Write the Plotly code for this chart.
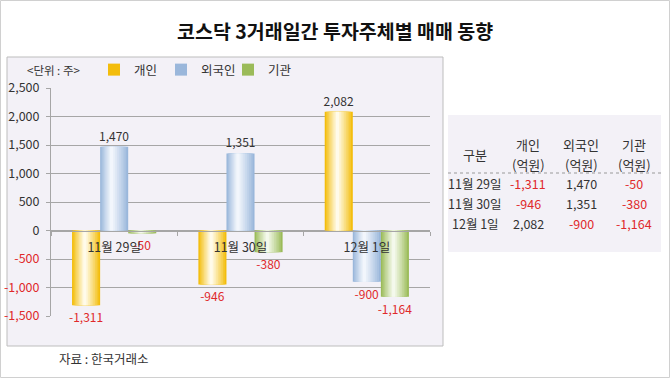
import plotly.graph_objects as go

# ---------------- data ----------------
dates = ["11월 29일", "11월 30일", "12월 1일"]
series_names = ["개인", "외국인", "기관"]
individual = [-1311, -946, 2082]
foreign = [1470, 1351, -900]
institution = [-50, -380, -1164]
y_ticks = [-1500, -1000, -500, 0, 500, 1000, 1500, 2000, 2500]
series_values = [individual, foreign, institution]

title_text = "코스닥 3거래일간 투자주체별 매매 동향"
unit_text = "<단위 : 주>"
source_text = "자료 : 한국거래소"
table_first_col = "구분"
table_unit = "(억원)"

# ---------------- style ----------------
FONT = "Noto Sans CJK KR"
RED = "#e0292b"
TXT = "#333333"
GRID = "#a6a6a6"
W_PX, H_PX = 670, 378
L, R, T, B = 51, 430, 88, 316


def px_x(px):
    return (px - L) / (R - L)


def px_y(py):
    return (B - py) / (B - T)


def hex2rgb(h):
    h = h.lstrip("#")
    return tuple(int(h[i:i + 2], 16) for i in (0, 2, 4))


def mix(c1, c2, t):
    a, b = hex2rgb(c1), hex2rgb(c2)
    return "rgb(%d,%d,%d)" % tuple(round(a[i] + (b[i] - a[i]) * t) for i in range(3))


# edge colour, highlight colour, highlight centre position
grad = [
    ("#f3bd0c", "#fffbea", 0.45),
    ("#9ab7db", "#f2f6fc", 0.40),
    ("#9bbb59", "#f4f9ec", 0.45),
]

fig = go.Figure()
N = 9
bw = 2 / 9
for i, (name, vals) in enumerate(zip(series_names, series_values)):
    edge, hi, c = grad[i]
    for k in range(N):
        s = k / N
        left = c * s
        right = 1 - (1 - c) * s
        col = mix(edge, hi, (k / (N - 1)) ** 0.9)
        kw = {}
        if k == 0:
            kw = dict(
                text=[f"{v:,}" for v in vals],
                textposition="outside",
                textfont=dict(family=FONT, size=12,
                              color=[RED if v < 0 else TXT for v in vals]),
                constraintext="none",
                cliponaxis=False,
            )
        fig.add_trace(go.Bar(
            x=dates, y=vals, name=name,
            offset=-1 / 3 + i * bw + left * bw,
            width=(right - left) * bw,
            marker=dict(color=col, line=dict(width=0)),
            showlegend=(k == 0),
            legendgroup=name,
            hoverinfo="skip",
            **kw,
        ))

ticktext = [f'<span style="color:{RED}">{v:,}</span>' if v < 0 else f"{v:,}" for v in y_ticks]

shapes = [
    # outer image border
    dict(type="rect", xref="paper", yref="paper",
         x0=px_x(0.5), x1=px_x(669.5), y0=px_y(0.5), y1=px_y(377.5),
         line=dict(color="#d0d0d0", width=1), fillcolor="rgba(0,0,0,0)", layer="below"),
    # chart box
    dict(type="rect", xref="paper", yref="paper",
         x0=px_x(7), x1=px_x(443), y0=px_y(57), y1=px_y(346),
         line=dict(color="#bdbdbd", width=1), fillcolor="#f3f1f7", layer="below"),
    # table box
    dict(type="rect", xref="paper", yref="paper",
         x0=px_x(448), x1=px_x(661), y0=px_y(115), y1=px_y(252),
         line=dict(width=0), fillcolor="#f3f1f7", layer="below"),
    # table dashed separator
    dict(type="line", xref="paper", yref="paper",
         x0=px_x(448), x1=px_x(661), y0=px_y(173), y1=px_y(173),
         line=dict(color="#999999", width=1, dash="dot")),
]


def ann(text, x, y, size=12, color=TXT, xanchor="center", bold=False):
    return dict(text=f"<b>{text}</b>" if bold else text, x=px_x(x), y=px_y(y),
                xref="paper", yref="paper", showarrow=False,
                font=dict(family=FONT, size=size, color=color),
                xanchor=xanchor, yanchor="middle")


annotations = [
    ann(title_text, 335, 30, size=19.5, color="#111111", bold=True),
    ann(unit_text, 25, 70, size=11.5, xanchor="left"),
    ann(source_text, 57, 358, size=12.5, xanchor="left"),
]

# table
col_x = [475, 528, 581, 634]
annotations.append(ann(table_first_col, col_x[0], 154, size=13))
for j, name in enumerate(series_names):
    annotations.append(ann(name, col_x[j + 1], 144, size=13))
    annotations.append(ann(table_unit, col_x[j + 1], 164, size=13))
row_y = [183, 203, 223]
for r, d in enumerate(dates):
    annotations.append(ann(d, col_x[0], row_y[r], size=12.5))
    for j, vals in enumerate(series_values):
        v = vals[r]
        annotations.append(ann(f"{v:,}", col_x[j + 1], row_y[r], size=12.5,
                               color=RED if v < 0 else TXT))

fig.update_layout(
    width=W_PX, height=H_PX,
    margin=dict(l=L, r=W_PX - R, t=T, b=H_PX - B, pad=0),
    paper_bgcolor="white", plot_bgcolor="rgba(0,0,0,0)",
    barmode="overlay",
    font=dict(family=FONT, size=12, color=TXT),
    showlegend=True,
    legend=dict(orientation="h", x=px_x(94), y=px_y(70), xanchor="left", yanchor="middle",
                bgcolor="rgba(0,0,0,0)", font=dict(family=FONT, size=12.5, color=TXT),
                entrywidth=22, entrywidthmode="pixels", itemwidth=30),
    xaxis=dict(
        type="category", range=[-0.5, 2.5],
        anchor="free", position=0.375, automargin=False,
        showline=True, linecolor=GRID, linewidth=1,
        ticks="outside", tickson="boundaries", ticklen=4, tickcolor=GRID,
        showgrid=False, zeroline=False, ticklabelstandoff=5,
        tickfont=dict(family=FONT, size=12.5, color=TXT),
    ),
    yaxis=dict(
        range=[-1500, 2500], tickvals=y_ticks, ticktext=ticktext, automargin=False,
        showgrid=True, gridcolor=GRID, gridwidth=1,
        showline=True, linecolor=GRID, linewidth=1,
        ticks="outside", ticklen=4, tickcolor=GRID,
        zeroline=False, ticklabelstandoff=4,
        tickfont=dict(family=FONT, size=12.5, color=TXT),
    ),
    shapes=shapes,
    annotations=annotations,
)

fig.write_html("out.html", config={"displayModeBar": False},
               post_script="document.body.style.margin='0px';document.body.style.overflow='hidden';")
